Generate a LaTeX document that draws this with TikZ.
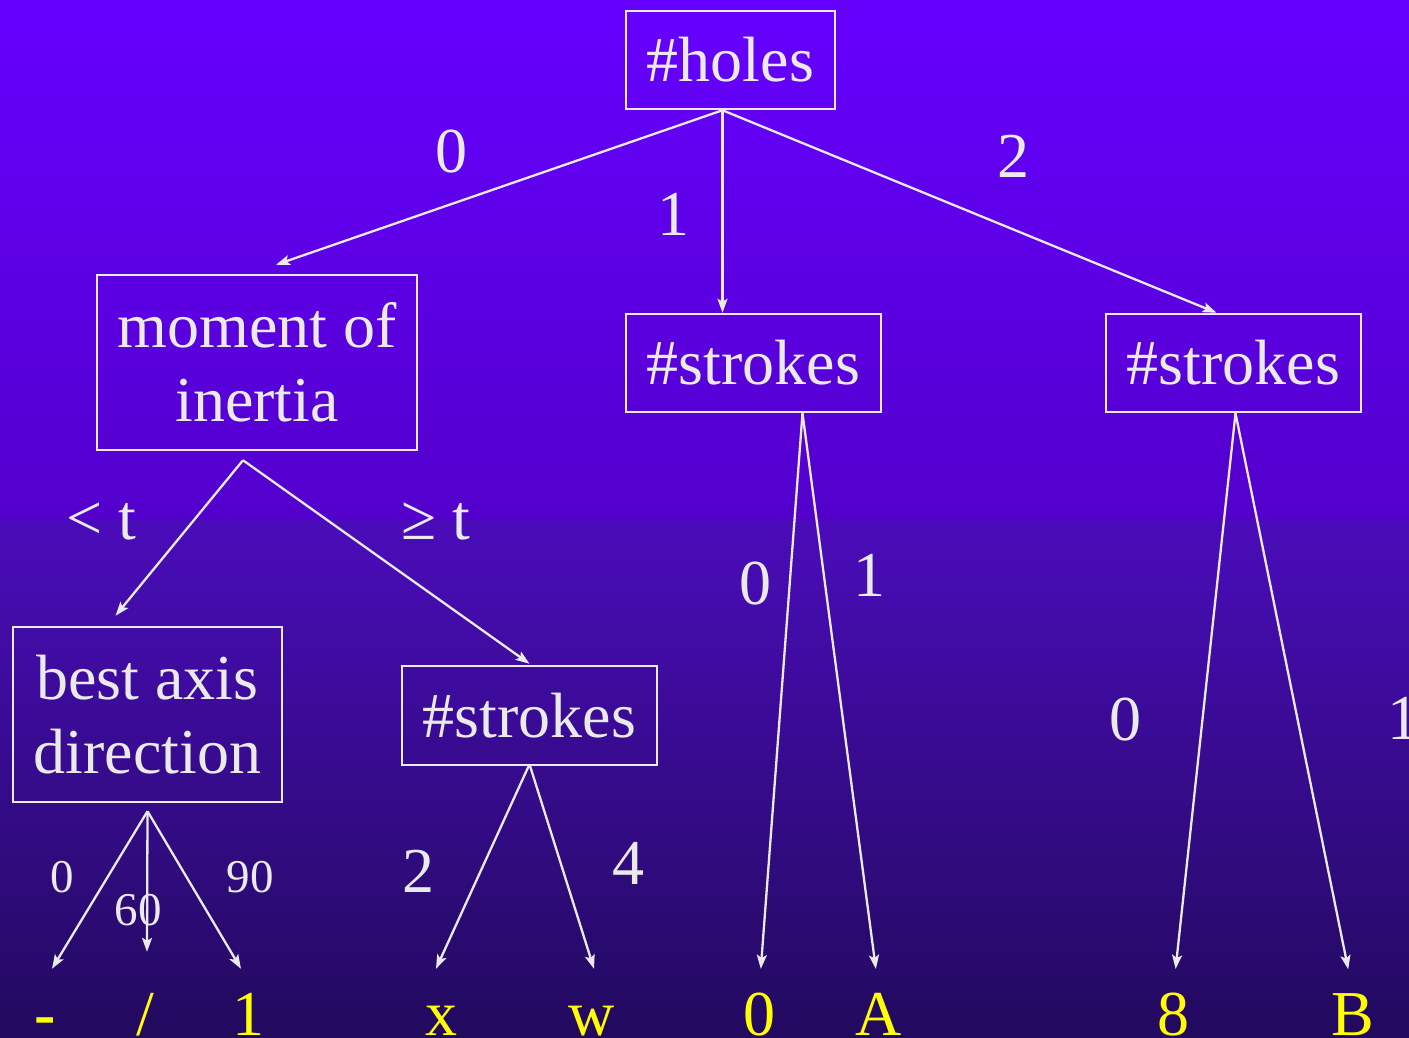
\documentclass[tikz,border=0pt]{standalone}
\usepackage{fontspec}
\setmainfont{Liberation Serif}
\usetikzlibrary{arrows.meta,calc}
\definecolor{fg}{HTML}{EAEAEA}
\definecolor{leafc}{HTML}{FFFF00}
\definecolor{bgA}{HTML}{6600FF}
\definecolor{bgB}{HTML}{5300CC}
\definecolor{bgC}{HTML}{4A0CBA}
\definecolor{bgD}{HTML}{220A5E}
\newcommand\bigfnt{\fontsize{64}{75}\selectfont}
\newcommand\midfnt{\fontsize{47}{56}\selectfont}
\tikzset{
  treebox/.style={draw=fg, line width=2.5pt, text=fg, font=\bigfnt, inner sep=0pt, align=center},
  leaf/.style={text=leafc, font=\bigfnt, anchor=base, inner sep=0pt, text height=42pt},
  lab/.style={text=fg, font=\bigfnt, anchor=base, inner sep=0pt},
  slab/.style={text=fg, font=\midfnt, anchor=base, inner sep=0pt},
  edge/.style={draw=fg, line width=2.3pt, -{Stealth[length=14pt,width=10pt,inset=3pt]}},
  toleaf/.style={edge, shorten >=24pt}
}
\begin{document}
\begin{tikzpicture}[x=1pt,y=-1pt]
\useasboundingbox (0,0) rectangle (1409,1038);
\clip (0,0) rectangle (1409,1038);
\shade[top color=bgA, bottom color=bgB] (0,0) rectangle (1409,520);
\shade[top color=bgC, bottom color=bgD] (0,520) rectangle (1409,1038);

% boxes
\node[treebox, minimum width=209pt, minimum height=98pt] (holes) at (730.5,60) {\#holes};
\node[treebox, minimum width=320pt, minimum height=175pt] (moi) at (257,362.5) {moment of\\[-1pt]inertia};
\node[treebox, minimum width=255pt, minimum height=98pt] (sm) at (753.5,363) {\#strokes};
\node[treebox, minimum width=255pt, minimum height=98pt] (sr) at (1233.5,363) {\#strokes};
\node[treebox, minimum width=269pt, minimum height=175pt] (bad) at (147.5,714.5) {best axis\\[-1pt]direction};
\node[treebox, minimum width=255pt, minimum height=99pt] (sl) at (529.5,715.5) {\#strokes};

% leaves
\node[leaf, font=\bigfnt\bfseries] (lminus) at (45,1035) {-};
\node[leaf] (lslash) at (145,1035) {/};
\node[leaf] (lone) at (248,1035) {1};
\node[leaf] (lx) at (441,1035) {x};
\node[leaf] (lw) at (592,1035) {w};
\node[leaf] (lzero) at (759,1035) {0};
\node[leaf] (lA) at (879,1035) {A};
\node[leaf] (leight) at (1173,1035) {8};
\node[leaf] (lB) at (1353,1035) {B};

% edges from #holes
\draw[edge] ([xshift=-8pt]holes.south) -- ([xshift=19pt,yshift=9pt]moi.north);
\draw[edge] ([xshift=-8pt]holes.south) -- ([xshift=-31pt]sm.north);
\draw[edge] ([xshift=-8pt]holes.south) -- ([xshift=-17pt]sr.north);
% edges from moment of inertia
\draw[edge] ([xshift=-14pt,yshift=-9pt]moi.south) -- ([xshift=-32pt,yshift=10pt]bad.north);
\draw[edge] ([xshift=-14pt,yshift=-9pt]moi.south) -- ([yshift=1pt]sl.north);
% edges from middle #strokes
\draw[toleaf] ([xshift=49pt]sm.south) -- (lzero.north);
\draw[toleaf] ([xshift=49pt]sm.south) -- (lA.north);
% edges from right #strokes
\draw[toleaf] ([xshift=2pt]sr.south) -- (leight.north);
\draw[toleaf] ([xshift=2pt]sr.south) -- (lB.north);
% edges from best axis direction
\draw[edge] ([yshift=-8pt]bad.south) -- ($(lminus.north)+(7,-24)$);
\draw[edge] ([yshift=-8pt]bad.south) -- ($(lslash.north)+(2,-41)$);
\draw[edge] ([yshift=-8pt]bad.south) -- ($(lone.north)+(-7,-24)$);
% edges from lower #strokes
\draw[edge] ([yshift=2pt]sl.south) -- ($(lx.north)+(-5,-24)$);
\draw[edge] ([yshift=2pt]sl.south) -- ($(lw.north)+(2,-24)$);

% labels
\node[lab] (e0) at (451,172) {0};
\node[lab] (e1) at (673,235) {1};
\node[lab] (e2) at (1013,178) {2};
\node[lab] (elt) at (101,539) {< t};
\node[lab] (ege) at (436,539) {≥ t};
\node[lab] (m0) at (755,604) {0};
\node[lab] (m1) at (869,596) {1};
\node[lab] (r0) at (1125,740) {0};
\node[lab] (r1) at (1403,739) {1};
\node[slab] (b0) at (62,892) {0};
\node[slab] (b60) at (138,925) {60};
\node[slab] (b90) at (250,892) {90};
\node[lab] (s2) at (418,892) {2};
\node[lab] (s4) at (628,884) {4};
\end{tikzpicture}
\end{document}
